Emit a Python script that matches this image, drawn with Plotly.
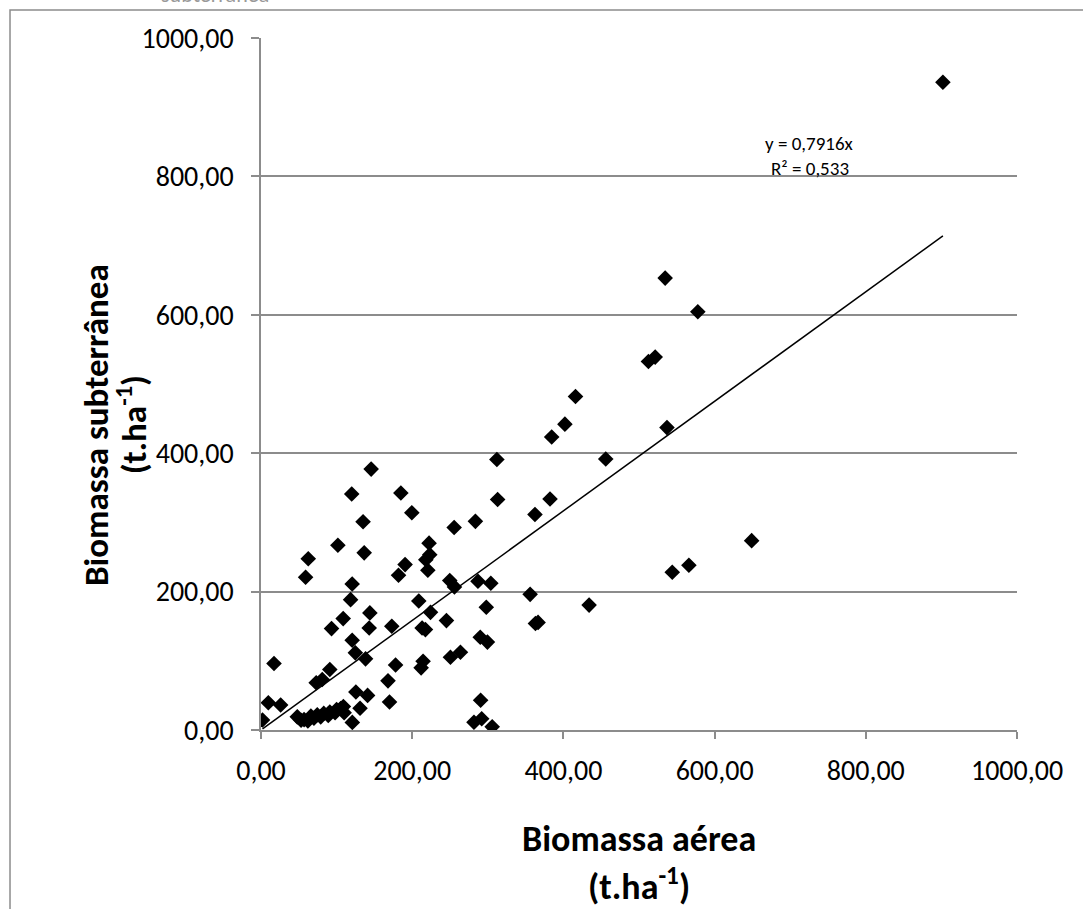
import plotly.graph_objects as go

# Data
biomassa_aerea = [
    902, 534.6, 577.8, 512.5, 521.4, 416, 402, 384.5, 537, 456,
    312, 145.7, 120, 185, 313, 382.3, 199.5, 362.4, 135, 255.5,
    283.6, 101.7, 222.3, 136.5, 223.2, 62.5, 218, 190.6, 181.9, 220.7,
    59, 120.6, 249.7, 255.9, 287, 304, 356, 118.5, 208.7, 224.2,
    298, 434, 108.7, 144, 245.3, 363, 366.5, 93.3, 143.1, 173,
    213.1, 217.5, 120.6, 290, 299.5, 124.8, 138.3, 250.6, 263.8, 17.2,
    73, 81, 91, 178, 214.4, 211.8, 168, 9.7, 26, 2,
    48, 53, 57, 62, 66, 70, 74.4, 79, 83, 89,
    91, 98, 100, 105.4, 109, 110, 120.8, 131, 125.5, 141,
    170, 290.5, 281.7, 291.9, 305.8, 544, 566, 649,
]
biomassa_subterranea = [
    936, 653, 604.3, 532.6, 538.9, 482, 442, 423.4, 437, 391.6,
    391, 377, 341, 342.5, 333, 333.9, 314, 311.5, 301, 292.6,
    301.5, 267, 270, 256, 253.4, 247.5, 246, 239, 223.6, 230.8,
    220.7, 211, 215.9, 206.8, 214.9, 212, 196, 188.4, 186.5, 170,
    177.3, 180.5, 161, 169.2, 158.1, 154, 155.5, 146.5, 147.5, 150,
    147.5, 145.1, 129.7, 134, 127, 111.5, 102.8, 105.1, 112.3, 96,
    68.2, 72.9, 87.4, 94, 99.4, 89.8, 71, 39.3, 36.2, 14.5,
    19, 14, 15, 13, 20, 17, 22, 19, 24, 21,
    26, 25, 29.6, 31, 34, 25, 11, 31.5, 55, 50,
    40.5, 43, 11.3, 16.2, 4.6, 228, 238, 273.6,
]
slope = 0.7916
r2_text = "R² = 0,533"
eq_text = "y = 0,7916x"

tick_vals = [0, 200, 400, 600, 800, 1000]
tick_text = ["0,00", "200,00", "400,00", "600,00", "800,00", "1000,00"]

FONT = "Carlito, Lato, 'Open Sans', sans-serif"
GRID = "#8c8c8c"

x_min, x_max = min(biomassa_aerea), max(biomassa_aerea)
trend_x = [x_min, x_max]
trend_y = [slope * v for v in trend_x]

fig = go.Figure()
fig.add_trace(go.Scatter(
    x=trend_x, y=trend_y, mode="lines",
    line=dict(color="black", width=1.5), hoverinfo="skip", showlegend=False,
))
fig.add_trace(go.Scatter(
    x=biomassa_aerea, y=biomassa_subterranea, mode="markers",
    marker=dict(symbol="diamond", size=12, color="black", line=dict(width=0)),
    showlegend=False,
))

fig.update_layout(
    width=1083, height=909,
    margin=dict(l=261, r=66, t=38, b=179),
    paper_bgcolor="white", plot_bgcolor="white",
    font=dict(family=FONT, color="black"),
    xaxis=dict(
        range=[0, 1000], tickvals=tick_vals, ticktext=tick_text,
        showgrid=False, zeroline=False, showline=True, linecolor=GRID, linewidth=1.5,
        ticks="outside", ticklen=7, tickcolor=GRID, tickwidth=1.5,
        tickfont=dict(size=28, family=FONT, color="black"),
        ticklabelstandoff=8,
    ),
    yaxis=dict(
        range=[0, 1000], tickvals=tick_vals, ticktext=tick_text,
        showgrid=True, gridcolor=GRID, gridwidth=1.5,
        zeroline=False, showline=True, linecolor=GRID, linewidth=1.5,
        ticks="outside", ticklen=8, tickcolor=GRID, tickwidth=1.5,
        tickfont=dict(size=28, family=FONT, color="black"),
        ticklabelstandoff=12,
    ),
    shapes=[dict(
        type="rect", xref="paper", yref="paper",
        x0=-0.332, y0=-0.4, x1=1.2, y1=1.0404,
        line=dict(color=GRID, width=1.5), fillcolor="rgba(0,0,0,0)", layer="below",
    )],
    annotations=[
        dict(text=eq_text, x=726, y=847, xref="x", yref="y", showarrow=False,
             xanchor="center", yanchor="middle",
             font=dict(size=19, family=FONT, color="black")),
        dict(text=r2_text, x=726, y=812, xref="x", yref="y", showarrow=False,
             xanchor="center", yanchor="middle",
             font=dict(size=19, family=FONT, color="black")),
        dict(text="<b>Biomassa aérea</b>", x=0.5, y=-0.158, xref="paper", yref="paper",
             xanchor="center", yanchor="middle",
             showarrow=False, font=dict(size=36, family=FONT, color="black")),
        dict(text="<b>(t.ha<sup>-1</sup>)</b>", x=0.5, y=-0.223, xref="paper", yref="paper",
             xanchor="center", yanchor="middle",
             showarrow=False, font=dict(size=36, family=FONT, color="black")),
        dict(text="<b>Biomassa subterrânea</b>", x=-0.218, y=0.441, xref="paper", yref="paper",
             xanchor="center", yanchor="middle",
             showarrow=False, textangle=-90, font=dict(size=35, family=FONT, color="black")),
        dict(text="<b>(t.ha<sup>-1</sup>)</b>", x=-0.17, y=0.441, xref="paper", yref="paper",
             xanchor="center", yanchor="middle",
             showarrow=False, textangle=-90, font=dict(size=35, family=FONT, color="black")),
        dict(text="subterrânea", x=-0.061, y=1.063, xref="paper", yref="paper",
             xanchor="center", yanchor="middle",
             showarrow=False, font=dict(size=22, family=FONT, color="#999999")),
    ],
)

fig.write_html(
    "out.html",
    config={"displayModeBar": False},
    post_script="document.body.style.margin='0';document.body.style.overflow='hidden';",
)
